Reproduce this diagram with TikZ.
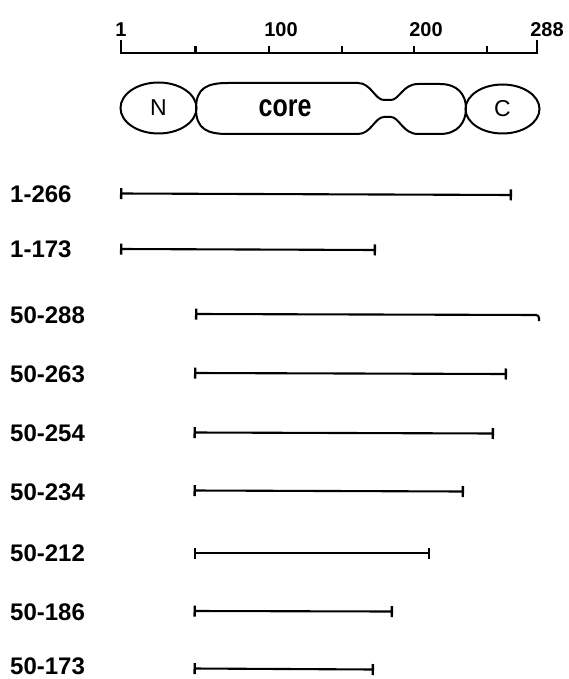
\documentclass[tikz,border=0pt]{standalone}
\usepackage{fontspec}
\setmainfont{Liberation Sans}
\usetikzlibrary{shapes.geometric,arrows.meta}
\begin{document}
\begin{tikzpicture}[x=1pt,y=-1pt,
  ln/.style={line width=2.1pt,line cap=butt},
  bar/.style={ln,{Bar[width=11pt,line width=2.4pt]}-{Bar[width=11pt,line width=2.4pt]}},
  rowlabel/.style={anchor=west,inner sep=0pt,font=\fontsize{24}{24}\selectfont\bfseries},
  scalelabel/.style={inner sep=0pt,font=\fontsize{20}{20}\selectfont\bfseries},
  dombox/.style={ellipse,draw,line width=2pt,inner sep=0pt,font=\fontsize{23}{23}\selectfont}
]
\useasboundingbox (0,0) rectangle (568,679);

% scale
\coordinate (s0) at (121,53);
\coordinate (s1) at (537,53);
\draw[ln] (121,40) -- (s0) -- (s1) -- (537,40);
\foreach \x in {195.5,269,342,414,487}
  \draw[ln] (\x,46) -- (\x,53);
\node[scalelabel] (l1) at (121,30) {1};
\node[scalelabel] (l100) at (281,30) {100};
\node[scalelabel] (l200) at (426,30) {200};
\node[scalelabel] (l288) at (547,30) {288};

% domains
\node[dombox,minimum width=76pt,minimum height=51pt] (N) at (158.5,108) {N};
\node[dombox,minimum width=74pt,minimum height=49pt] (C) at (502.5,109) {C};
\draw[line width=2pt] (196,108.5) .. controls (196,88) and (207,83) .. (228,83) -- (358,83)
  .. controls (371,83) and (375,100) .. (384,100) -- (391,100)
  .. controls (399,100) and (403,84) .. (418,84) -- (440,84)
  .. controls (458,84) and (466,95) .. (466,108.5)
  .. controls (466,122) and (458,134) .. (440,134) -- (418,134)
  .. controls (403,134) and (399,117) .. (391,117) -- (384,117)
  .. controls (375,117) and (371,134) .. (358,134) -- (228,134)
  .. controls (207,134) and (196,129) .. (196,108.5) -- cycle;
\node[inner sep=0pt,font=\fontsize{25}{25}\selectfont\bfseries] (core) at (285,108.5) {\scalebox{1}[1.25]{core}};

% constructs
\node[rowlabel] (r1) at (10,194) {1-266};
\coordinate (a1) at (120,193.5); \coordinate (b1) at (512,195);
\draw[bar] (a1) -- (b1);

\node[rowlabel] (r2) at (10,249) {1-173};
\coordinate (a2) at (120,249); \coordinate (b2) at (376,250);
\draw[bar] (a2) -- (b2);

\node[rowlabel] (r3) at (10,315) {50-288};
\coordinate (a3) at (195,314); \coordinate (b3) at (539,321);
\draw[ln,{Bar[width=11pt,line width=2.4pt]}-,rounded corners=3pt] (a3) -- (539,315) -- (b3);

\node[rowlabel] (r4) at (10,374) {50-263};
\coordinate (a4) at (194,373); \coordinate (b4) at (507,374);
\draw[bar] (a4) -- (b4);

\node[rowlabel] (r5) at (10,433) {50-254};
\coordinate (a5) at (193.5,432.5); \coordinate (b5) at (494,433.5);
\draw[bar] (a5) -- (b5);

\node[rowlabel] (r6) at (10,492) {50-234};
\coordinate (a6) at (193.5,490.5); \coordinate (b6) at (464,491.5);
\draw[bar] (a6) -- (b6);

\node[rowlabel] (r7) at (10,553) {50-212};
\coordinate (a7) at (193.5,553); \coordinate (b7) at (430,553);
\draw[bar] (a7) -- (b7);

\node[rowlabel] (r8) at (10,612) {50-186};
\coordinate (a8) at (193.5,611); \coordinate (b8) at (393,611.5);
\draw[bar] (a8) -- (b8);

\node[rowlabel] (r9) at (10,666.5) {50-173};
\coordinate (a9) at (193.5,668.5); \coordinate (b9) at (374,669.5);
\draw[bar] (a9) -- (b9);
\end{tikzpicture}
\end{document}
